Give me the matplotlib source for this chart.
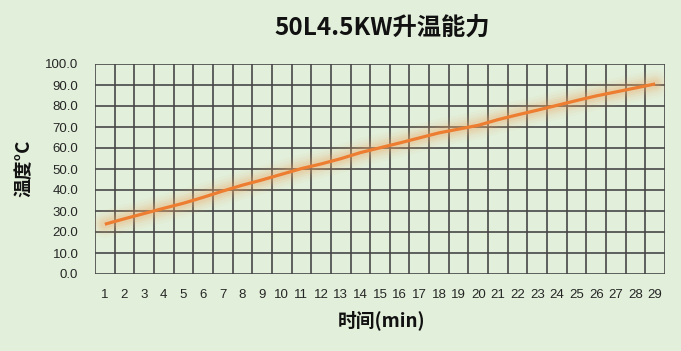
import matplotlib
matplotlib.use("Agg")
import matplotlib.pyplot as plt
import numpy as np

minutes = list(range(1, 30))
temps = [23.7, 26.3, 28.8, 31.3, 33.7, 36.5, 39.5, 42.3, 44.8, 47.5,
         50.2, 52.4, 54.9, 57.8, 60.1, 62.4, 64.8, 67.2, 69.0, 70.8,
         73.5, 75.8, 78.0, 80.3, 82.6, 84.8, 86.7, 88.6, 90.5]
y_ticks = [0, 10, 20, 30, 40, 50, 60, 70, 80, 90, 100]
title = "50L4.5KW升温能力"
xlabel = "时间(min)"
ylabel = "温度°C"

bg = "#E2EFDA"
line_c = "#ED7D31"
grid_c = "#474747"
cjk = ["Noto Sans CJK SC", "DejaVu Sans"]
tickfont = ["Liberation Sans Narrow", "Liberation Sans", "DejaVu Sans"]

fig = plt.figure(figsize=(6.81, 3.51), dpi=100, facecolor=bg)
ax = fig.add_axes([95/681, 77/351, 570/681, 210/351])
ax.set_facecolor(bg)

n = len(minutes)
x = np.arange(n)
ax.set_xlim(-0.5, n - 0.5)
ax.set_ylim(0, 100)

# grid
for b in np.arange(-0.5, n, 1.0):
    ax.axvline(b, color=grid_c, lw=1.2, zorder=1)
for t in y_ticks:
    ax.axhline(t, color=grid_c, lw=1.2, zorder=1)
for s in ax.spines.values():
    s.set_visible(False)

# glow
for w, a in [(20, 0.05), (16, 0.07), (12, 0.09), (9, 0.12), (6, 0.16)]:
    ax.plot(x, temps, color="#F0A868", lw=w, alpha=a, solid_capstyle="round", zorder=2)
ax.plot(x, temps, color=line_c, lw=2.3, solid_capstyle="butt", zorder=3)

ax.set_xticks(x)
ax.set_xticklabels([str(m) for m in minutes], family=tickfont, fontsize=9.5, color="#262626")
ax.set_yticks(y_ticks)
ax.set_yticklabels([f"{t:.1f}" for t in y_ticks], family=tickfont, fontsize=9.5, color="#262626")
ax.tick_params(length=0)
ax.tick_params(axis="y", pad=12)
ax.tick_params(axis="x", pad=11)

fig.text(382/681, 1 - 28/351, title, ha="center", va="center", family=cjk,
         fontsize=17.5, fontweight="heavy", color="#111111")
fig.text(382/681, 1 - 320/351, xlabel, ha="center", va="center", family=cjk,
         fontsize=13.5, fontweight="bold", color="#111111")
fig.text(24/681, 1 - 168/351, ylabel, ha="center", va="center", family=cjk,
         fontsize=13.5, fontweight="bold", rotation=90, color="#111111")

fig.savefig("out.png", dpi=100, facecolor=bg)
